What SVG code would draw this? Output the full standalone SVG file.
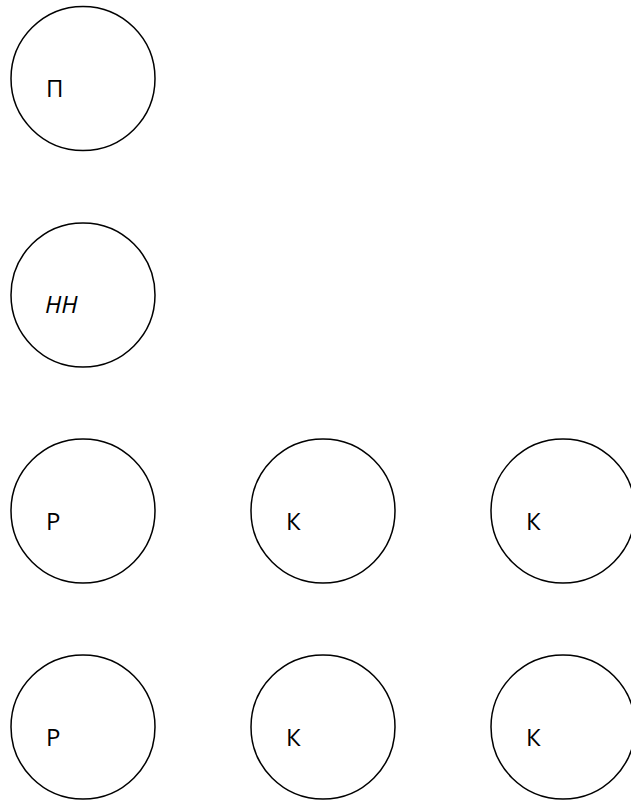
<svg xmlns="http://www.w3.org/2000/svg" width="631" height="801" viewBox="0 0 631 801">
<style>
.n{fill:#fff;stroke:#000;stroke-width:1.5}
.t{font-family:"Open Sans","Liberation Sans",sans-serif;font-size:24px;fill:#000}
.i{font-style:italic}
</style>
<rect width="631" height="801" fill="#fff"/>
<g id="connectors"></g>
<g id="n1"><circle class="n" cx="83" cy="78.5" r="72"/><text class="t" x="46" y="97">П</text></g>
<g id="n2"><circle class="n" cx="83" cy="295" r="72"/><text class="t i" x="45" y="313">НН</text></g>
<g id="n3"><circle class="n" cx="83" cy="511" r="72"/><text class="t" x="46" y="530">Р</text></g>
<g id="n4"><circle class="n" cx="323" cy="511" r="72"/><text class="t" x="286" y="530">К</text></g>
<g id="n5"><circle class="n" cx="563" cy="511" r="72"/><text class="t" x="526" y="530">К</text></g>
<g id="n6"><circle class="n" cx="83" cy="727" r="72"/><text class="t" x="46" y="746">Р</text></g>
<g id="n7"><circle class="n" cx="323" cy="727" r="72"/><text class="t" x="286" y="746">К</text></g>
<g id="n8"><circle class="n" cx="563" cy="727" r="72"/><text class="t" x="526" y="746">К</text></g>
</svg>
